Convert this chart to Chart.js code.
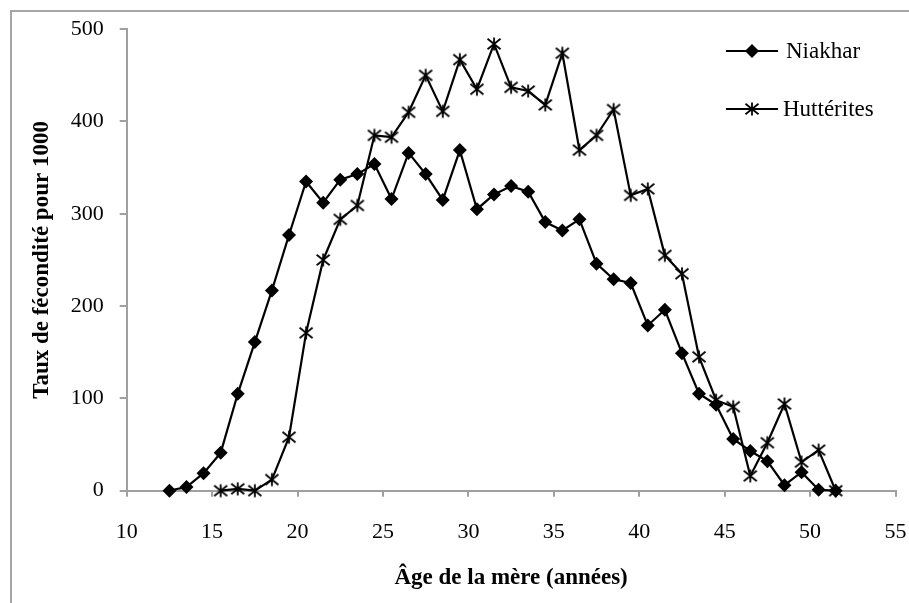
<!DOCTYPE html>
<html>
<head>
<meta charset="utf-8">
<script src="https://cdn.jsdelivr.net/npm/chart.js@4/dist/chart.umd.min.js"></script>
<style>
  html, body { margin: 0; padding: 0; background: #fff; }
  #wrap { width: 909px; height: 603px; }
</style>
</head>
<body>
<div id="wrap"><canvas id="fecondite" width="909" height="603"></canvas></div>
<script>
// valeurs
const niakharAges = [12.5, 13.5, 14.5, 15.5, 16.5, 17.5, 18.5, 19.5, 20.5, 21.5, 22.5, 23.5, 24.5, 25.5, 26.5, 27.5, 28.5, 29.5, 30.5, 31.5,
                     32.5, 33.5, 34.5, 35.5, 36.5, 37.5, 38.5, 39.5, 40.5, 41.5, 42.5, 43.5, 44.5, 45.5, 46.5, 47.5, 48.5, 49.5, 50.5, 51.5];
const niakharRates = [0, 4, 19, 41, 105, 161, 217, 277, 335, 312, 337, 343, 354, 316, 366, 343, 315, 369, 305, 321,
                      330, 324, 291, 282, 294, 246, 229, 225, 179, 196, 149, 105, 93, 56, 43, 32, 6, 20, 1, 0];

const hutteriteAges = [15.5, 16.5, 17.5, 18.5, 19.5, 20.5, 21.5, 22.5, 23.5, 24.5, 25.5, 26.5, 27.5, 28.5, 29.5, 30.5, 31.5, 32.5, 33.5,
                       34.5, 35.5, 36.5, 37.5, 38.5, 39.5, 40.5, 41.5, 42.5, 43.5, 44.5, 45.5, 46.5, 47.5, 48.5, 49.5, 50.5, 51.5];
const hutteriteRates = [0, 2, 0, 12, 58, 171, 250, 294, 309, 385, 383, 410, 450, 411, 467, 435, 484, 437, 433,
                        418, 474, 369, 385, 413, 320, 327, 255, 235, 145, 98, 91, 16, 52, 94, 31, 44, 0];

const seriesNames = ['Niakhar', 'Huttérites'];
const xTitle = 'Âge de la mère (années)';
const yTitle = 'Taux de fécondité pour 1000';

const AXIS_GREY = '#a0a0a0';
const FONT = "'Liberation Serif', 'Times New Roman', serif";

// marqueur étoile façon Excel : X + barre verticale
function makeStar(size) {
    const c = document.createElement('canvas');
    c.width = size; c.height = size;
    const g = c.getContext('2d');
    const m = size / 2, r = size / 2 - 1.5;
    g.strokeStyle = '#000';
    g.lineWidth = 1.8;
    g.beginPath();
    g.moveTo(m, m - r); g.lineTo(m, m + r);
    g.moveTo(m - r, m - r * 0.8); g.lineTo(m + r, m + r * 0.8);
    g.moveTo(m + r, m - r * 0.8); g.lineTo(m - r, m + r * 0.8);
    g.stroke();
    return c;
}
const star = makeStar(16);

const toPoints = (xs, ys) => xs.map((x, i) => ({ x, y: ys[i] }));

// cadre extérieur (coupé à droite et en bas comme sur l'original)
const frame = {
    id: 'frame',
    beforeDraw(chart) {
        const ctx = chart.ctx;
        ctx.save();
        ctx.strokeStyle = '#a6a6a6';
        ctx.lineWidth = 2;
        ctx.strokeRect(11, 11, 920, 620);
        ctx.restore();
    }
};

// légende à droite, deux lignes espacées
const sideLegend = {
    id: 'sideLegend',
    afterDraw(chart) {
        const ctx = chart.ctx;
        const x0 = 726, x1 = 778;
        const rows = [51, 109];
        ctx.save();
        chart.data.datasets.forEach((ds, i) => {
            const y = rows[i];
            const xm = (x0 + x1) / 2;
            ctx.strokeStyle = '#000';
            ctx.lineWidth = 2.2;
            ctx.beginPath(); ctx.moveTo(x0, y); ctx.lineTo(x1, y); ctx.stroke();
            if (i === 0) {
                ctx.fillStyle = '#000';
                ctx.beginPath();
                ctx.moveTo(xm - 7, y); ctx.lineTo(xm, y - 7); ctx.lineTo(xm + 7, y); ctx.lineTo(xm, y + 7);
                ctx.closePath(); ctx.fill();
            } else {
                ctx.drawImage(star, xm - 8, y - 8);
            }
            ctx.fillStyle = '#000';
            ctx.font = '23px ' + FONT;
            ctx.textBaseline = 'middle';
            ctx.textAlign = 'left';
            ctx.fillText(ds.label, i === 0 ? 786 : 783, y + 1);
        });
        ctx.restore();
    }
};

new Chart(document.getElementById('fecondite'), {
    type: 'line',
    data: {
        datasets: [
            {
                label: seriesNames[0],
                data: toPoints(niakharAges, niakharRates),
                borderColor: '#000', backgroundColor: '#000',
                borderWidth: 2.2, tension: 0,
                pointStyle: 'rectRot', pointRadius: 7, pointBorderWidth: 0,
                pointBackgroundColor: '#000', clip: false
            },
            {
                label: seriesNames[1],
                data: toPoints(hutteriteAges, hutteriteRates),
                borderColor: '#000', backgroundColor: '#000',
                borderWidth: 2.2, tension: 0,
                pointStyle: star, pointRadius: 8, clip: false
            }
        ]
    },
    options: {
        responsive: false,
        animation: false,
        devicePixelRatio: 1,
        layout: { padding: { left: 12, top: 29, right: 13.5, bottom: 0 } },
        plugins: { legend: { display: false }, tooltip: { enabled: false } },
        scales: {
            x: {
                type: 'linear',
                min: 10, max: 55,
                afterFit(s) { s.height = 112.3; s.paddingLeft = 0; s.paddingRight = 0; },
                border: { display: true, color: AXIS_GREY, width: 2 },
                grid: { drawOnChartArea: false, drawTicks: true, tickLength: 6, color: AXIS_GREY, lineWidth: 2 },
                ticks: { stepSize: 5, padding: 22, color: '#000', font: { family: FONT, size: 22 }, maxRotation: 0 },
                title: { display: true, text: xTitle, color: '#000', font: { family: FONT, size: 23, weight: 'bold' }, padding: { top: 0, bottom: 11 } }
            },
            y: {
                min: 0, max: 500,
                afterFit(s) { s.width = 114.7; },
                border: { display: true, color: AXIS_GREY, width: 2 },
                grid: { drawOnChartArea: false, drawTicks: true, tickLength: 7, color: AXIS_GREY, lineWidth: 2 },
                ticks: { stepSize: 100, padding: 16, color: '#000', font: { family: FONT, size: 22 } },
                title: { display: true, text: yTitle, color: '#000', font: { family: FONT, size: 23, weight: 'bold' }, padding: { top: 16, bottom: 0 } }
            }
        }
    },
    plugins: [frame, sideLegend]
});
</script>
</body>
</html>
